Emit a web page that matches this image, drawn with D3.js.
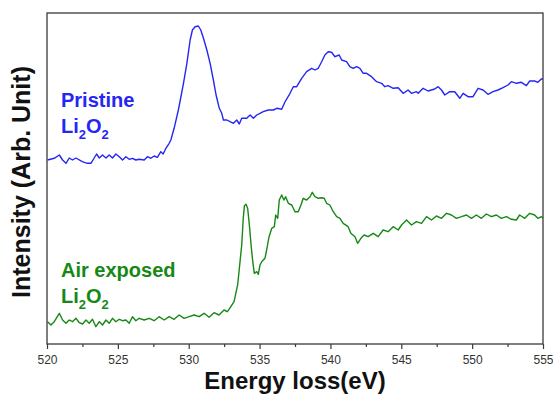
<!DOCTYPE html>
<html>
<head>
<meta charset="utf-8">
<script src="https://cdn.jsdelivr.net/npm/d3@7"></script>
<style>
  body { margin: 0; background: #fff; }
  svg { display: block; font-family: "Liberation Sans", Arial, sans-serif; }
</style>
</head>
<body>
<div id="chart"></div>
<script>
// Energy range and tick values (eV)
const energyDomain = [520, 555];
const majorTicks = [520, 525, 530, 535, 540, 545, 550, 555];
const minorTicks = [522.5, 527.5, 532.5, 537.5, 542.5, 547.5, 552.5];

// Pristine Li2O2 spectrum: [energy loss (eV), intensity (arb.)]
const pristine = [
  [520.04,184],[520.51,185.7],[520.87,189],[521.10,184],[521.34,180.7],[521.57,186],[521.80,184],
  [522.04,186],[522.49,182.3],[522.84,180.7],[523.10,180.7],[523.33,186],[523.50,190],[523.69,186],
  [523.92,189],[524.16,186],[524.39,189],[524.62,186],[524.86,190],[525.10,187.3],[525.33,184],
  [525.57,187.3],[525.80,184.7],[526.03,185.7],[526.27,184],[526.50,184.7],[526.86,184],[527.09,187.3],
  [527.33,185.7],[527.56,188],[527.79,186.7],[528.03,192.3],[528.20,190],[528.39,195.7],[528.62,200.7],
  [528.74,204],[528.97,215.7],[529.27,234],[529.63,260.7],[529.87,280.7],[530.10,304],[530.26,314],
  [530.45,317.3],[530.68,318],[530.85,314],[531.04,305.7],[531.28,294],[531.51,280.7],[531.74,264],
  [531.93,249],[532.16,235.7],[532.33,230.7],[532.45,224],[532.69,224],[532.92,222.3],[533.15,220.7],
  [533.39,224],[533.57,220],[533.74,225.7],[534.09,225.7],[534.33,229],[534.56,225.7],[534.80,229],
  [535.03,230.7],[535.26,232.3],[535.62,234],[535.97,234],[536.21,235.7],[536.56,234.7],[536.79,242],
  [537.15,250.7],[537.38,257.3],[537.62,257.3],[537.97,265.7],[538.32,272.3],[538.68,275.7],[538.91,274],
  [539.14,275.7],[539.38,282.3],[539.61,289],[539.84,292.3],[540.08,291.7],[540.32,287.3],[540.62,289],
  [540.79,284],[541.14,282.3],[541.37,277.3],[541.61,275.7],[541.85,277.3],[542.08,275.7],[542.31,270.7],
  [542.55,270.7],[542.90,267.3],[543.26,262.3],[543.61,260.7],[543.84,257.3],[544.07,258.3],[544.43,255.7],
  [544.78,256.3],[545.13,250.7],[545.48,254],[545.72,250.7],[546.07,252.3],[546.19,250.7],[546.54,255.7],
  [546.89,253],[547.36,255],[547.60,257.3],[547.84,254],[548.07,249],[548.42,252.3],[548.77,252.3],
  [549.13,245.7],[549.36,250.7],[549.71,247.3],[550.06,247.3],[550.42,255.7],[550.77,254],[551.12,249.7],
  [551.47,252.3],[551.82,254],[552.18,256.3],[552.53,259],[552.77,262.3],[553.12,260.7],[553.47,261.7],
  [553.83,258.3],[554.06,263],[554.41,263],[554.64,261.7],[554.88,265],[555.00,265]
];

// Air exposed Li2O2 spectrum: [energy loss (eV), intensity (arb.)]
const airExposed = [
  [520.04,22.3],[520.28,19],[520.51,22.3],[520.87,30.7],[521.10,24],[521.34,20.7],[521.57,24],
  [521.80,22.3],[522.04,25.7],[522.28,21.3],[522.51,20],[522.75,24],[522.98,20.7],[523.21,24.7],
  [523.45,17.3],[523.69,22.3],[523.92,19],[524.16,24],[524.39,20.7],[524.62,25.7],[524.86,22.3],
  [525.10,24.7],[525.33,23.3],[525.57,24],[525.80,20.7],[526.03,27.3],[526.27,23.3],[526.50,25.7],
  [526.86,24],[527.21,25.7],[527.56,23.3],[527.91,27.3],[528.27,24],[528.62,27.3],[528.97,24.7],
  [529.32,29],[529.68,25.7],[530.03,27.3],[530.38,29],[530.73,27.3],[531.09,30.7],[531.44,26.7],
  [531.79,31.3],[532.14,29],[532.49,34],[532.73,32.3],[532.97,37.3],[533.20,42.3],[533.46,59.7],
  [533.62,82.3],[533.74,99],[533.85,125.7],[533.93,138.3],[534.04,139.7],[534.16,135.7],[534.28,119],
  [534.40,99],[534.52,82.3],[534.63,70.7],[534.80,72.3],[534.91,69.7],[535.03,79],[535.15,82.3],
  [535.38,85.7],[535.50,94],[535.67,107.3],[535.86,115.7],[536.04,117.3],[536.14,129],[536.28,125.7],
  [536.39,144],[536.56,149],[536.72,144],[536.84,147.3],[537.03,140.7],[537.27,139],[537.50,132.3],
  [537.73,132.3],[537.92,139],[538.08,145.7],[538.32,144],[538.56,147.3],[538.72,151.7],[538.91,147.3],
  [539.14,145.7],[539.38,146.3],[539.56,145.7],[539.73,140.7],[539.96,139],[540.20,132.3],[540.44,127.3],
  [540.67,125.7],[540.90,120.7],[541.25,117.3],[541.44,110.7],[541.73,107.3],[541.92,100.7],[542.15,105.7],
  [542.38,109],[542.66,107.3],[543.02,110.7],[543.37,107.3],[543.72,114],[544.07,112.3],[544.43,117.3],
  [544.78,114],[545.02,119],[545.37,124],[545.72,119],[546.07,122.3],[546.43,120.7],[546.78,127.3],
  [547.13,124],[547.48,128],[547.84,125.7],[548.19,130.7],[548.54,129],[548.89,125.7],[549.25,127.3],
  [549.60,129],[549.95,125.7],[550.30,129],[550.65,125.7],[551.01,130],[551.36,127.3],[551.71,129],
  [552.06,125.7],[552.42,127.3],[552.77,124.7],[553.12,124],[553.35,129],[553.71,125.7],[554.06,130.7],
  [554.41,129],[554.64,125.7],[554.88,127.3],[555.00,126]
];

const width = 553, height = 395;
const margin = { top: 13, right: 10, bottom: 51, left: 47 };
const blue = "#2626f4", green = "#168816";

const svg = d3.select("#chart").append("svg")
  .attr("width", width)
  .attr("height", height);

const x = d3.scaleLinear().domain(energyDomain).range([margin.left, width - margin.right]);
const y = d3.scaleLinear().domain([0, 331]).range([height - margin.bottom, margin.top]);

// curves
const line = d3.line().x(d => x(d[0])).y(d => y(d[1]));

svg.append("path").datum(pristine)
  .attr("fill", "none").attr("stroke", blue).attr("stroke-width", 1.4)
  .attr("stroke-linejoin", "round").attr("d", line);

svg.append("path").datum(airExposed)
  .attr("fill", "none").attr("stroke", green).attr("stroke-width", 1.4)
  .attr("stroke-linejoin", "round").attr("d", line);

// frame
svg.append("rect")
  .attr("x", margin.left).attr("y", margin.top)
  .attr("width", width - margin.left - margin.right)
  .attr("height", height - margin.top - margin.bottom)
  .attr("fill", "none").attr("stroke", "#3a3a3a").attr("stroke-width", 1.3);

// x axis: major ticks with labels, minor ticks without
const xAxis = svg.append("g")
  .attr("transform", `translate(0,${height - margin.bottom})`)
  .call(d3.axisBottom(x).tickValues(majorTicks).tickSize(5).tickPadding(6).tickFormat(d3.format("d")));
xAxis.select(".domain").remove();
xAxis.selectAll("line").attr("stroke", "#3a3a3a").attr("stroke-width", 1.2);
xAxis.selectAll("text").attr("font-size", "12px").attr("fill", "#333")
  .attr("font-family", "'Liberation Sans', Arial, sans-serif");

const xMinor = svg.append("g")
  .attr("transform", `translate(0,${height - margin.bottom})`)
  .call(d3.axisBottom(x).tickValues(minorTicks).tickSize(3).tickFormat(""));
xMinor.select(".domain").remove();
xMinor.selectAll("line").attr("stroke", "#3a3a3a").attr("stroke-width", 1.2);

// axis titles
svg.append("text")
  .attr("x", 295).attr("y", 389)
  .attr("text-anchor", "middle")
  .attr("font-size", "24px").attr("font-weight", "bold").attr("fill", "#111")
  .text("Energy loss(eV)");

svg.append("text")
  .attr("transform", "translate(30,182) rotate(-90)")
  .attr("text-anchor", "middle")
  .attr("font-size", "25px").attr("font-weight", "bold").attr("fill", "#111")
  .text("Intensity (Arb. Unit)");

// series labels
function addLabel(lines, left, top, color) {
  const t = svg.append("text")
    .attr("font-size", "20px").attr("font-weight", "bold").attr("fill", color);
  t.append("tspan").attr("x", left).attr("y", top).text(lines);
  const f = svg.append("text")
    .attr("x", left).attr("y", top + 26)
    .attr("font-size", "20px").attr("font-weight", "bold").attr("fill", color);
  f.append("tspan").text("Li");
  f.append("tspan").attr("font-size", "13px").attr("dy", 6).text("2");
  f.append("tspan").attr("dy", -6).text("O");
  f.append("tspan").attr("font-size", "13px").attr("dy", 6).text("2");
}

addLabel("Pristine", 61, 107, blue);
addLabel("Air exposed", 61, 277, green);
</script>
</body>
</html>
